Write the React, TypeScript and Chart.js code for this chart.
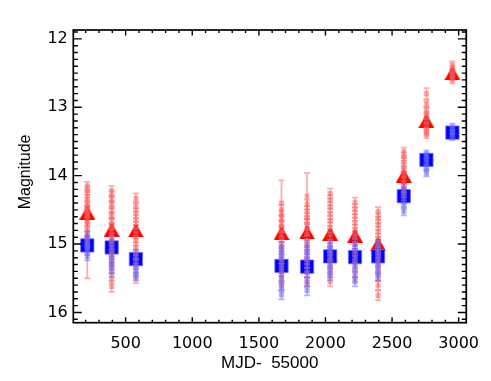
import React, { useEffect, useRef } from 'react';
import { Chart, registerables } from 'chart.js';

Chart.register(...registerables);

// ---- data ----
const epochX = [212, 395, 577, 1670, 1862, 2035, 2222, 2395, 2588, 2758, 2953];

const redMean = [14.54, 14.79, 14.8, 14.84, 14.83, 14.85, 14.88, 15.0, 14.0, 13.2, 12.5];
const redMeanErr = [0.07, 0.07, 0.07, 0.07, 0.08, 0.06, 0.07, 0.07, 0.06, 0.06, 0.05];
const blueMean = [15.02, 15.05, 15.22, 15.32, 15.33, 15.18, 15.19, 15.18, 14.3, 13.77, 13.37];
const blueMeanErr = [0.04, 0.04, 0.04, 0.05, 0.05, 0.04, 0.05, 0.04, 0.04, 0.03, 0.02];

const redSingle = [
  [14.15, 14.22, 14.3, 14.38, 14.45, 14.5, 14.55, 14.6, 14.68, 14.75, 14.85, 14.95, 15.05],
  [14.22, 14.3, 14.38, 14.46, 14.55, 14.62, 14.7, 14.78, 14.86, 14.95, 15.05, 15.15, 15.25, 15.35, 15.5, 15.62],
  [14.33, 14.45, 14.55, 14.65, 14.75, 14.85, 14.95, 15.05, 15.15, 15.3, 15.5],
  [14.4, 14.5, 14.58, 14.66, 14.74, 14.82, 14.9, 15.0, 15.1, 15.22, 15.35, 15.48, 15.6],
  [14.3, 14.42, 14.52, 14.62, 14.7, 14.78, 14.86, 14.95, 15.05, 15.15, 15.28, 15.42, 15.56],
  [14.26, 14.36, 14.46, 14.56, 14.66, 14.76, 14.86, 14.96, 15.06, 15.18, 15.3, 15.42, 15.55],
  [14.39, 14.49, 14.59, 14.69, 14.79, 14.89, 14.99, 15.09, 15.2, 15.32, 15.48],
  [14.53, 14.62, 14.72, 14.82, 14.92, 15.02, 15.12, 15.22, 15.34, 15.46, 15.6, 15.75],
  [13.65, 13.72, 13.8, 13.88, 13.95, 14.02, 14.1, 14.18, 14.25],
  [12.8, 12.95, 13.05, 13.12, 13.2, 13.28, 13.35, 13.4],
  [12.38, 12.44, 12.5, 12.55, 12.6],
];
const redSingleErr = [
  [0.06, 0.06, 0.06, 0.06, 0.06, 0.06, 0.06, 0.06, 0.06, 0.06, 0.06, 0.06, 0.45],
  [0.07, 0.07, 0.07, 0.07, 0.07, 0.07, 0.07, 0.07, 0.07, 0.07, 0.07, 0.07, 0.07, 0.07, 0.07, 0.08],
  [0.07, 0.07, 0.07, 0.07, 0.07, 0.07, 0.07, 0.07, 0.07, 0.07, 0.07],
  [0.33, 0.07, 0.07, 0.07, 0.07, 0.07, 0.07, 0.07, 0.07, 0.07, 0.07, 0.07, 0.07],
  [0.34, 0.07, 0.07, 0.07, 0.07, 0.07, 0.07, 0.07, 0.07, 0.07, 0.07, 0.07, 0.07],
  [0.07, 0.07, 0.07, 0.07, 0.07, 0.07, 0.07, 0.07, 0.07, 0.07, 0.07, 0.07, 0.07],
  [0.07, 0.07, 0.07, 0.07, 0.07, 0.07, 0.07, 0.07, 0.07, 0.07, 0.07],
  [0.07, 0.07, 0.07, 0.07, 0.07, 0.07, 0.07, 0.07, 0.07, 0.07, 0.07, 0.07],
  [0.06, 0.06, 0.06, 0.06, 0.06, 0.06, 0.06, 0.06, 0.06],
  [0.08, 0.05, 0.05, 0.05, 0.05, 0.05, 0.05, 0.05],
  [0.05, 0.05, 0.05, 0.05, 0.05],
];

const blueSingle = [
  [14.88, 14.94, 15.0, 15.05, 15.1, 15.18],
  [14.96, 15.05, 15.15, 15.25, 15.32, 15.42],
  [15.15, 15.22, 15.3, 15.4, 15.47],
  [15.04, 15.12, 15.22, 15.3, 15.4, 15.5, 15.62, 15.74],
  [15.02, 15.12, 15.22, 15.32, 15.42, 15.55, 15.68],
  [15.0, 15.1, 15.18, 15.28, 15.38, 15.47],
  [15.0, 15.1, 15.2, 15.3, 15.42, 15.55],
  [15.0, 15.1, 15.18, 15.28, 15.38, 15.48],
  [14.18, 14.26, 14.34, 14.42, 14.52],
  [13.68, 13.74, 13.8, 13.88, 13.96],
  [13.29, 13.34, 13.38, 13.43],
];
const blueSingleErr = [
  [0.06, 0.06, 0.06, 0.06, 0.06, 0.06],
  [0.06, 0.06, 0.06, 0.06, 0.06, 0.06],
  [0.06, 0.06, 0.06, 0.06, 0.06],
  [0.07, 0.07, 0.07, 0.07, 0.07, 0.07, 0.07, 0.07],
  [0.07, 0.07, 0.07, 0.07, 0.07, 0.07, 0.07],
  [0.06, 0.06, 0.06, 0.06, 0.06, 0.06],
  [0.07, 0.07, 0.07, 0.07, 0.07, 0.07],
  [0.06, 0.06, 0.06, 0.06, 0.06, 0.06],
  [0.06, 0.06, 0.06, 0.06, 0.06],
  [0.05, 0.05, 0.05, 0.05, 0.05],
  [0.05, 0.05, 0.05, 0.05],
];

const xTickValues = [500, 1000, 1500, 2000, 2500, 3000];
const yTickValues = [12, 13, 14, 15, 16];
const xTitle = 'MJD-  55000';
const yTitle = '  Magnitude';

// ---- layout constants ----
const W = 491;
const H = 381;
const X_MIN = 107;
const X_MAX = 3057;
const Y_MIN = 11.87;
const Y_MAX = 16.15;
const X_MINOR = 100;
const Y_MINOR = 0.1;

function singles(vals: number[][], errs: number[][]) {
  const out: { x: number; y: number; e: number }[] = [];
  vals.forEach((list, i) => {
    list.forEach((v, j) => out.push({ x: epochX[i], y: v, e: errs[i][j] }));
  });
  return out;
}

function means(vals: number[], errs: number[]) {
  return vals.map((v, i) => ({ x: epochX[i], y: v, e: errs[i] }));
}

function makeTriangle(color: string, w: number, h: number) {
  const c = document.createElement('canvas');
  c.width = w;
  c.height = h;
  const g = c.getContext('2d')!;
  g.fillStyle = color;
  g.beginPath();
  g.moveTo(w / 2, 0);
  g.lineTo(w, h);
  g.lineTo(0, h);
  g.closePath();
  g.fill();
  return c;
}

function drawErrors(chart: any, index: number) {
  const ds: any = chart.data.datasets[index];
  const meta = chart.getDatasetMeta(index);
  const ys = chart.scales.y;
  const ctx = chart.ctx;
  const area = chart.chartArea;
  ctx.save();
  ctx.beginPath();
  ctx.rect(area.left, area.top, area.right - area.left, area.bottom - area.top);
  ctx.clip();
  ctx.strokeStyle = ds.errColor;
  ctx.lineWidth = ds.errWidth;
  const cap = ds.errCap;
  meta.data.forEach((pt: any, i: number) => {
    const raw = ds.data[i];
    const x = pt.x;
    const y1 = ys.getPixelForValue(raw.y - raw.e);
    const y2 = ys.getPixelForValue(raw.y + raw.e);
    ctx.beginPath();
    ctx.moveTo(x, y1);
    ctx.lineTo(x, y2);
    ctx.moveTo(x - cap, y1);
    ctx.lineTo(x + cap, y1);
    ctx.moveTo(x - cap, y2);
    ctx.lineTo(x + cap, y2);
    ctx.stroke();
  });
  ctx.restore();
}

const errorBarPlugin = {
  id: 'errorBars',
  beforeDatasetDraw(chart: any, args: any) {
    const ds: any = chart.data.datasets[args.index];
    if (ds.errMode === 'behind') drawErrors(chart, args.index);
  },
  afterDatasetDraw(chart: any, args: any) {
    const ds: any = chart.data.datasets[args.index];
    if (ds.errMode === 'front') drawErrors(chart, args.index);
  },
};

const framePlugin = {
  id: 'idlFrame',
  afterDraw(chart: any) {
    const ctx = chart.ctx;
    const { left, right, top, bottom } = chart.chartArea;
    const xs = chart.scales.x;
    const ys = chart.scales.y;
    ctx.save();
    ctx.strokeStyle = '#000';
    ctx.lineWidth = 1.7;
    ctx.strokeRect(left, top, right - left, bottom - top);
    ctx.lineWidth = 1.4;
    ctx.beginPath();
    const xStart = Math.ceil(X_MIN / X_MINOR);
    const xEnd = Math.floor(X_MAX / X_MINOR);
    for (let k = xStart; k <= xEnd; k++) {
      const v = k * X_MINOR;
      const px = xs.getPixelForValue(v);
      const len = k % 5 === 0 ? 5.5 : 3;
      ctx.moveTo(px, bottom);
      ctx.lineTo(px, bottom - len);
      ctx.moveTo(px, top);
      ctx.lineTo(px, top + len);
    }
    const yStart = Math.ceil(Y_MIN / Y_MINOR - 1e-6);
    const yEnd = Math.floor(Y_MAX / Y_MINOR + 1e-6);
    for (let k = yStart; k <= yEnd; k++) {
      const v = k * Y_MINOR;
      const py = ys.getPixelForValue(v);
      const len = k % 10 === 0 ? 8.5 : 4.5;
      ctx.moveTo(left, py);
      ctx.lineTo(left + len, py);
      ctx.moveTo(right, py);
      ctx.lineTo(right - len, py);
    }
    ctx.stroke();
    ctx.restore();
  },
};

export default function App() {
  const ref = useRef<HTMLCanvasElement | null>(null);

  useEffect(() => {
    if (!ref.current) return;
    const tri = makeTriangle('rgb(255,0,0)', 16, 14);
    const chart = new Chart(ref.current, {
      type: 'scatter',
      data: {
        datasets: [
          {
            data: singles(blueSingle, blueSingleErr),
            pointStyle: 'rect',
            radius: 3.6,
            backgroundColor: 'rgba(100,100,255,0.5)',
            borderWidth: 0,
            errMode: 'behind',
            errColor: 'rgba(100,100,255,0.5)',
            errWidth: 1.8,
            errCap: 3,
          } as any,
          {
            data: singles(redSingle, redSingleErr),
            pointStyle: 'rect',
            radius: 3.6,
            backgroundColor: 'rgba(255,90,90,0.5)',
            borderWidth: 0,
            errMode: 'behind',
            errColor: 'rgba(255,90,90,0.5)',
            errWidth: 1.8,
            errCap: 3,
          } as any,
          {
            data: means(blueMean, blueMeanErr),
            pointStyle: 'rect',
            radius: 9.4,
            backgroundColor: 'rgb(0,0,255)',
            borderColor: 'rgba(110,110,255,0.8)',
            borderWidth: 1,
            errMode: 'front',
            errColor: '#000',
            errWidth: 1,
            errCap: 2,
          } as any,
          {
            data: means(redMean, redMeanErr),
            pointStyle: tri,
            radius: 7,
            backgroundColor: 'rgb(255,0,0)',
            borderWidth: 0,
            errMode: 'front',
            errColor: '#000',
            errWidth: 1,
            errCap: 2,
          } as any,
        ],
      },
      options: {
        responsive: false,
        animation: false,
        events: [],
        layout: { padding: { left: 0, right: W - 466.7, top: 30, bottom: 0 } },
        plugins: { legend: { display: false }, tooltip: { enabled: false } },
        scales: {
          x: {
            type: 'linear',
            min: X_MIN,
            max: X_MAX,
            grid: { display: false, drawTicks: false },
            border: { display: false },
            afterBuildTicks: (s: any) => {
              s.ticks = xTickValues.map((v) => ({ value: v }));
            },
            afterFit: (s: any) => {
              s.height = H - 322.7;
            },
            ticks: {
              font: { family: 'DejaVu Sans', size: 16 },
              color: '#000',
              padding: 11.5,
              maxRotation: 0,
              autoSkip: false,
              callback: (v: any) => String(v),
            },
            title: {
              display: true,
              text: xTitle,
              color: '#000',
              font: { family: 'Liberation Sans', size: 17 },
              padding: { top: 0, bottom: 7.8 },
            },
          },
          y: {
            type: 'linear',
            reverse: true,
            min: Y_MIN,
            max: Y_MAX,
            grid: { display: false, drawTicks: false },
            border: { display: false },
            afterBuildTicks: (s: any) => {
              s.ticks = yTickValues.map((v) => ({ value: v }));
            },
            afterFit: (s: any) => {
              s.width = 73.3;
            },
            ticks: {
              font: { family: 'DejaVu Sans', size: 16 },
              color: '#000',
              padding: 5.5,
              autoSkip: false,
              callback: (v: any) => String(v),
            },
            title: {
              display: true,
              text: yTitle,
              color: '#000',
              font: { family: 'Liberation Sans', size: 16 },
              padding: { top: 16, bottom: 0 },
            },
          },
        },
      },
      plugins: [errorBarPlugin, framePlugin],
    });
    return () => chart.destroy();
  }, []);

  return (
    <div style={{ position: 'fixed', left: 0, top: 0, width: W, height: H, background: '#fff' }}>
      <canvas ref={ref} width={W} height={H} style={{ display: 'block', width: W, height: H }} />
    </div>
  );
}
